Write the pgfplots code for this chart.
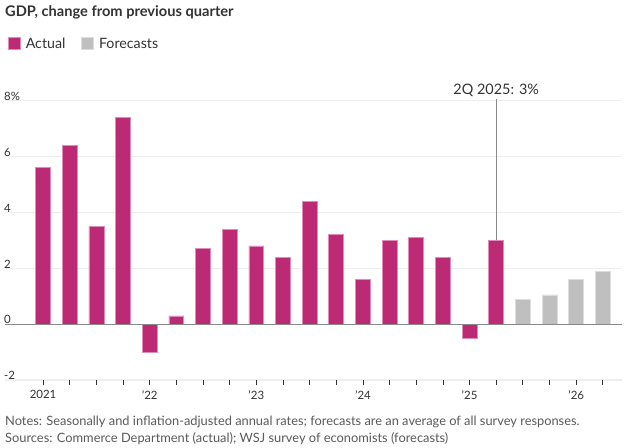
\documentclass[border=0pt]{standalone}
\usepackage{pgfplots}
\pgfplotsset{compat=1.18}
\usepackage{fontspec}
\setmainfont{Lato}

\definecolor{actual}{HTML}{BC2974}
\definecolor{actualedge}{HTML}{E08CB9}
\definecolor{fcast}{HTML}{BFBFBF}
\definecolor{fcastedge}{HTML}{DDDDDD}
\definecolor{gridc}{HTML}{EEEEEE}
\definecolor{zeroc}{HTML}{8A8A8A}
\definecolor{txt}{HTML}{333333}
\definecolor{notec}{HTML}{5A5A5A}

\begin{document}
\begin{tikzpicture}[x=1pt,y=1pt]
% page frame, axis box lower-left corner sits at (0,0)
\path[fill=white] (-5,-68) rectangle (622,382);

\begin{axis}[
  width=620pt, height=281pt, scale only axis,
  xmin=-1.43, xmax=21.72,
  ymin=-2, ymax=8,
  axis line style={draw=none},
  ymajorgrids, grid style={gridc, line width=1.5pt},
  ytick={-2,0,2,4,6,8},
  yticklabels={-2,0,2,4,6,8\%},
  ytick style={draw=none},
  yticklabel style={anchor=south west, xshift=3pt, yshift=-1pt, inner sep=1pt, font=\fontsize{11.5}{13}\selectfont, text=txt},
  xtick={0,...,21},
  xticklabels={2021,,,,’22,,,,’23,,,,’24,,,,’25,,,,’26,},
  xtick pos=bottom, tick align=outside,
  major tick length=5pt,
  x tick style={txt, line width=0.8pt},
  xticklabel style={font=\fontsize{11.5}{13}\selectfont, text=txt, yshift=-2pt},
  /pgf/number format/assume math mode=true,
  clip=false,
  legend style={at={(0,1)}, anchor=west, xshift=0pt, yshift=57pt, draw=none, fill=none,
    font=\fontsize{14.3}{16}\selectfont, text=txt, legend columns=2,
    /tikz/every odd column/.append style={column sep=3pt},
    /tikz/every even column/.append style={column sep=14pt}},
  legend image code/.code={\fill[#1] (0pt,-6pt) rectangle (12pt,6pt);},
]
\addplot[ybar, bar width=15pt, fill=actual, draw=actualedge, line width=0.7pt] coordinates {
(0,5.6) (1,6.4) (2,3.5) (3,7.4)
(4,-1.0) (5,0.3) (6,2.7) (7,3.4)
(8,2.8) (9,2.4) (10,4.4) (11,3.2)
(12,1.6) (13,3.0) (14,3.1) (15,2.4)
(16,-0.5) (17,3.0)};
\addlegendentry{Actual}
\addplot[ybar, bar width=15pt, fill=fcast, draw=fcastedge, line width=0.7pt] coordinates {
(18,0.9) (19,1.05) (20,1.6) (21,1.9)};
\addlegendentry{Forecasts}
\draw[zeroc, line width=1.5pt] (axis cs:-1.43,0) -- (axis cs:21.72,0);
\draw[zeroc, line width=1.2pt] (axis cs:17,3) -- (axis cs:17,8.05)
  node[above, inner sep=2pt, font=\fontsize{14.5}{16}\selectfont, text=txt] {2Q 2025: 3\%};
\end{axis}

\node[anchor=base west, inner sep=0pt, font=\bfseries\fontsize{14.7}{17}\selectfont, text=txt] at (0,365) {GDP, change from previous quarter};
\node[anchor=base west, inner sep=0pt, font=\fontsize{12.9}{14}\selectfont, text=notec] at (0,-46) {Notes: Seasonally and inflation-adjusted annual rates; forecasts are an average of all survey responses.};
\node[anchor=base west, inner sep=0pt, font=\fontsize{12.9}{14}\selectfont, text=notec] at (0,-63) {Sources: Commerce Department (actual); WSJ survey of economists (forecasts)};
\end{tikzpicture}
\end{document}
